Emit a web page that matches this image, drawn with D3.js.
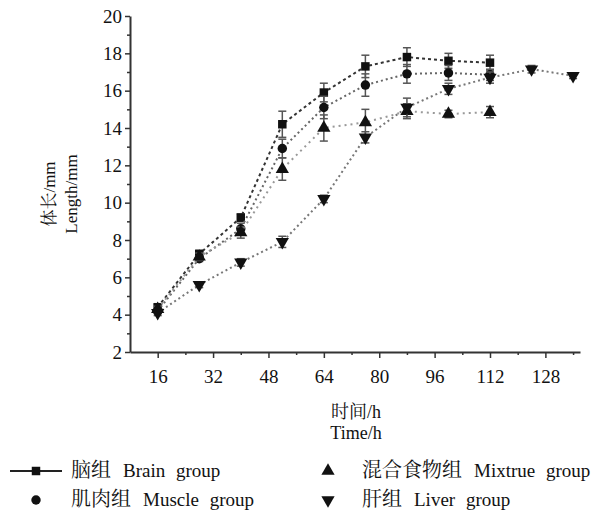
<!DOCTYPE html>
<html>
<head>
<meta charset="utf-8">
<script src="https://cdn.jsdelivr.net/npm/d3@7"></script>
<style>
  body { margin: 0; background: #fff; }
  svg { display: block; }
  text { font-family: "Liberation Serif", "Noto Serif CJK SC", "Noto Sans CJK SC", serif; fill: #111; }
</style>
</head>
<body>
<div id="chart"></div>
<script>
// sampling times (h)
const hours = [16, 28, 40, 52, 64, 76, 88, 100, 112, 124, 136];

// body length (mm)
const brain   = [4.4, 7.25, 9.2, 14.2, 15.9, 17.3, 17.8, 17.6, 17.5];
const muscle  = [4.2, 7.0, 8.6, 12.9, 15.1, 16.3, 16.9, 16.95, 16.85];
const mixture = [4.3, 7.1, 8.4, 11.8, 14.0, 14.3, 14.9, 14.75, 14.85];
const liver   = [4.1, 5.6, 6.8, 7.9, 10.2, 13.5, 15.1, 16.1, 16.7, 17.15, 16.8];

// error bars (mm)
const brainErr   = [0.15, 0.2, 0.2, 0.7, 0.5, 0.6, 0.5, 0.4, 0.4];
const muscleErr  = [0.15, 0.15, 0.3, 0.5, 0.6, 0.6, 0.5, 0.4, 0.3];
const mixtureErr = [0.15, 0.2, 0.3, 0.6, 0.7, 0.7, 0.4, 0.2, 0.3];
const liverErr   = [0.15, 0.15, 0.2, 0.3, 0.2, 0.3, 0.5, 0.3, 0.3, 0.2, 0.15];

const yTicks = [2, 4, 6, 8, 10, 12, 14, 16, 18, 20];
const xTicks = [16, 32, 48, 64, 80, 96, 112, 128];

const series = [
  { name: `脑组`, en: `Brain group`, values: brain, err: brainErr, symbol: d3.symbolSquare, size: 72, rot: 0, dash: `3,3`, color: `#333` },
  { name: `肌肉组`, en: `Muscle group`, values: muscle, err: muscleErr, symbol: d3.symbolCircle, size: 70, rot: 0, dash: `2,3`, color: `#666` },
  { name: `混合食物组`, en: `Mixtrue group`, values: mixture, err: mixtureErr, symbol: d3.symbolTriangle, size: 76, rot: 0, dash: `2,4`, color: `#999` },
  { name: `肝组`, en: `Liver group`, values: liver, err: liverErr, symbol: d3.symbolTriangle, size: 76, rot: 180, dash: `2,3`, color: `#777` }
];

const width = 601, height = 514;
const svg = d3.select(`#chart`).append(`svg`)
    .attr(`width`, width)
    .attr(`height`, height);

const x = d3.scaleLinear().domain([8, 138]).range([130, 580]);
const y = d3.scaleLinear().domain([2, 20]).range([352, 16]);

// axes
svg.append(`g`)
    .attr(`transform`, `translate(${x.range()[0]},0)`)
    .call(d3.axisLeft(y).tickValues(yTicks).tickSize(5).tickPadding(3).tickSizeOuter(0));
svg.append(`g`)
    .attr(`transform`, `translate(${x.range()[0]},0)`)
    .call(d3.axisLeft(y).tickValues(d3.range(3, 20, 2)).tickSize(3).tickFormat(``).tickSizeOuter(0))
    .call(g => g.select(`.domain`).remove());

svg.append(`g`)
    .attr(`transform`, `translate(0,${y.range()[0]})`)
    .call(d3.axisBottom(x).tickValues(xTicks).tickSize(6).tickPadding(12).tickSizeOuter(0));
svg.append(`g`)
    .attr(`transform`, `translate(0,${y.range()[0]})`)
    .call(d3.axisBottom(x).tickValues(d3.range(24, 138, 16)).tickSize(3).tickFormat(``).tickSizeOuter(0))
    .call(g => g.select(`.domain`).remove());

svg.selectAll(`.domain`).attr(`stroke`, `#333`).attr(`stroke-width`, 2);
svg.selectAll(`.tick line`).attr(`stroke`, `#333`).attr(`stroke-width`, 1.5);
svg.selectAll(`.tick text`).style(`font-size`, `19px`).attr(`fill`, `#111`);

// axis titles
const yTitle = svg.append(`text`)
    .attr(`transform`, `translate(55,194) rotate(-90)`)
    .attr(`text-anchor`, `middle`)
    .style(`font-size`, `17px`);
yTitle.append(`tspan`).attr(`x`, 0).attr(`dy`, 0).text(`体长/mm`);
yTitle.append(`tspan`).attr(`x`, 0).attr(`dy`, 22).text(`Length/mm`);

svg.append(`text`)
    .attr(`x`, 356).attr(`y`, 418)
    .attr(`text-anchor`, `middle`)
    .style(`font-size`, `18px`)
    .text(`时间/h`);
svg.append(`text`)
    .attr(`x`, 356).attr(`y`, 439)
    .attr(`text-anchor`, `middle`)
    .style(`font-size`, `18px`)
    .text(`Time/h`);

// lines, error bars, markers
const line = d3.line()
    .x((d, i) => x(hours[i]))
    .y((d) => y(d));

series.forEach((s) => {
  svg.append(`path`)
      .datum(s.values)
      .attr(`fill`, `none`)
      .attr(`stroke`, s.color)
      .attr(`stroke-width`, 2)
      .attr(`stroke-dasharray`, s.dash)
      .attr(`d`, line);

  const eb = svg.append(`g`).attr(`stroke`, `#555`).attr(`stroke-width`, 1.5);
  s.values.forEach((v, i) => {
    const cx = x(hours[i]);
    const y0 = y(v - s.err[i]), y1 = y(v + s.err[i]);
    eb.append(`line`).attr(`x1`, cx).attr(`x2`, cx).attr(`y1`, y0).attr(`y2`, y1);
    eb.append(`line`).attr(`x1`, cx - 4).attr(`x2`, cx + 4).attr(`y1`, y0).attr(`y2`, y0);
    eb.append(`line`).attr(`x1`, cx - 4).attr(`x2`, cx + 4).attr(`y1`, y1).attr(`y2`, y1);
  });

  svg.append(`g`).selectAll(`path`)
      .data(s.values)
    .enter().append(`path`)
      .attr(`d`, d3.symbol().type(s.symbol).size(s.size))
      .attr(`transform`, (d, i) => `translate(${x(hours[i])},${y(d)}) rotate(${s.rot})`)
      .attr(`fill`, `#111`);
});

// legend
const legendPos = [
  { mx: 36, tx: 71, ty: 477 },
  { mx: 36, tx: 71, ty: 506 },
  { mx: 328, tx: 362, ty: 477 },
  { mx: 328, tx: 362, ty: 506 }
];

series.forEach((s, i) => {
  const p = legendPos[i];
  const g = svg.append(`g`);
  if (i === 0) {
    g.append(`line`)
        .attr(`x1`, p.mx - 26).attr(`x2`, p.mx + 26)
        .attr(`y1`, p.ty - 6).attr(`y2`, p.ty - 6)
        .attr(`stroke`, `#222`).attr(`stroke-width`, 2);
  }
  g.append(`path`)
      .attr(`d`, d3.symbol().type(s.symbol).size(s.size))
      .attr(`transform`, `translate(${p.mx},${p.ty - 6}) rotate(${s.rot})`)
      .attr(`fill`, `#111`);
  const t = g.append(`text`)
      .attr(`x`, p.tx).attr(`y`, p.ty);
  t.append(`tspan`).style(`font-size`, `20px`).text(s.name);
  t.append(`tspan`).attr(`dx`, 12).style(`font-size`, `19px`).style(`word-spacing`, `6px`).text(s.en);
});
</script>
</body>
</html>
